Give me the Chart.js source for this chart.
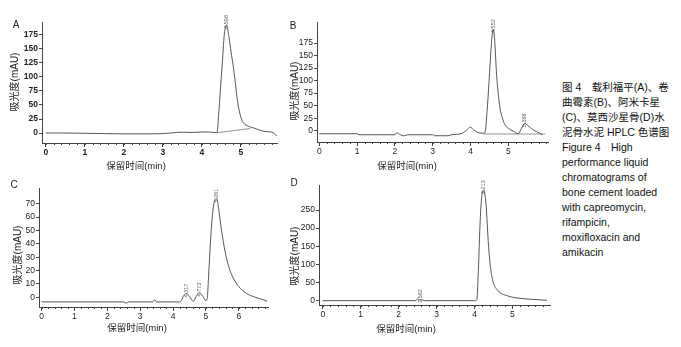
<!DOCTYPE html>
<html>
<head>
<meta charset="utf-8">
<script src="https://cdn.jsdelivr.net/npm/chart.js@4.4.1/dist/chart.umd.min.js"></script>
<style>
  body { margin: 0; background: #fff; }
  #page { position: relative; width: 681px; height: 347px; overflow: hidden; font-family: "Liberation Sans", "Noto Sans CJK SC", sans-serif; color: #222; }
  canvas { position: absolute; }
  .letter { position: absolute; font-size: 10px; transform: translate(-50%, -50%); }
  .ytitle { position: absolute; font-size: 10px; white-space: nowrap; transform: translate(-50%, -50%) rotate(-90deg); }
  .xtitle { position: absolute; font-size: 9.5px; white-space: nowrap; transform: translate(-50%, -50%); }
  #caption { position: absolute; left: 562px; top: 80px; font-size: 10.5px; line-height: 15px; white-space: nowrap; color: #111; }
</style>
</head>
<body>
<div id="page">
  <canvas id="chartA" width="290" height="170" style="left:0px;top:0px"></canvas>
  <canvas id="chartB" width="280" height="170" style="left:280px;top:0px"></canvas>
  <canvas id="chartC" width="285" height="175" style="left:0px;top:172px"></canvas>
  <canvas id="chartD" width="281" height="175" style="left:280px;top:172px"></canvas>

  <div class="letter" style="left:16px;top:24px">A</div>
  <div class="letter" style="left:293px;top:25px">B</div>
  <div class="letter" style="left:14px;top:184px">C</div>
  <div class="letter" style="left:294px;top:182px">D</div>

  <div class="ytitle" style="left:13px;top:82px">吸光度(mAU)</div>
  <div class="ytitle" style="left:293px;top:91px">吸光度(mAU)</div>
  <div class="ytitle" style="left:16px;top:255px">吸光度(mAU)</div>
  <div class="ytitle" style="left:293px;top:256px">吸光度(mAU)</div>

  <div class="xtitle" style="left:136px;top:165px">保留时间(min)</div>
  <div class="xtitle" style="left:407px;top:165px">保留时间(min)</div>
  <div class="xtitle" style="left:137px;top:327px">保留时间(min)</div>
  <div class="xtitle" style="left:406px;top:328px">保留时间(min)</div>

  <div id="caption">
    图 4　载利福平(A)、卷<br>
    曲霉素(B)、阿米卡星<br>
    (C)、莫西沙星骨(D)水<br>
    泥骨水泥 HPLC 色谱图<br>
    Figure 4　High<br>
    performance liquid<br>
    chromatograms of<br>
    bone cement loaded<br>
    with capreomycin,<br>
    rifampicin,<br>
    moxifloxacin and<br>
    amikacin
  </div>
</div>

<script>
// retention time (min) and absorbance (mAU)
var timeA = [0, 0.5, 1, 1.5, 2, 2.5, 2.7, 3, 3.2, 3.5, 3.7, 3.9, 4.1, 4.3, 4.39, 4.43, 4.48, 4.52, 4.58, 4.63, 4.7, 4.75, 4.81, 4.86, 4.91, 4.96, 5.02, 5.07, 5.2, 5.33, 5.45, 5.6, 5.75, 5.85, 5.93];
var absA  = [0, 0, -0.5, -1, -1.5, -1.5, -1.5, -1, 0, 1.5, 1, 1.5, 2, 1, 0.5, 30, 80, 118, 177, 193, 170, 145, 118, 90, 60, 40, 25, 18, 12, 9, 6, 3, 2, 0, -6];
var baseTimeA = [4.39, 5.24];
var baseAbsA  = [0.5, 8];

var timeB = [0, 0.5, 1.0, 1.05, 1.5, 2.0, 2.05, 2.12, 2.25, 2.35, 2.6, 3.0, 3.05, 3.4, 3.5, 3.75, 3.88, 4.0, 4.08, 4.18, 4.3, 4.38, 4.44, 4.49, 4.55, 4.6, 4.64, 4.69, 4.74, 4.78, 4.85, 4.91, 5.0, 5.13, 5.26, 5.35, 5.44, 5.52, 5.65, 5.83, 5.9];
var absB  = [-6, -6, -6, -8, -8, -8, -4, -7, -10, -8, -8, -8, -10, -10, -8, -6, 0, 7, 2, -3, -5, -4, 40, 98, 170, 203, 180, 112, 70, 45, 24, 12, 5, -1, -6, 5, 15, 10, 2, -5, -8];
var baseTimeB = [4.33, 5.98];
var baseAbsB  = [-6.5, -6.5];

var timeC = [0, 1, 2, 2.5, 2.58, 2.65, 3.38, 3.44, 3.5, 4.2, 4.25, 4.33, 4.41, 4.5, 4.62, 4.7, 4.8, 4.9, 5.0, 5.04, 5.08, 5.14, 5.2, 5.26, 5.32, 5.38, 5.42, 5.5, 5.62, 5.72, 5.82, 6.0, 6.23, 6.5, 6.7, 6.86];
var absC  = [-3.5, -3.5, -3.5, -3.5, -4.5, -3.5, -3.5, -1.8, -3.5, -3.5, -2.5, 1.5, 2.8, 0.5, -3, 0.5, 3.5, 1, -2.5, -1, 15, 42, 62, 72, 74, 68, 60, 46, 30, 21, 15, 8, 3, 0, -1.5, -3];

var timeD = [0, 1, 2, 2.45, 2.5, 2.55, 2.6, 2.68, 3.5, 4.0, 4.06, 4.1, 4.15, 4.19, 4.24, 4.3, 4.37, 4.43, 4.5, 4.6, 4.7, 4.85, 5.03, 5.25, 5.47, 5.7, 5.91];
var absD  = [0, 0, 0, 0, 5, 2, 3, 0, 0, 0, 2, 80, 222, 287, 305, 270, 150, 85, 48, 30, 20, 14, 9, 6, 4, 2.5, 1];

// peak retention-time labels
var peakTextA = ["4.598"];          var peakTimeA = [4.63];            var peakAbsA = [193];
var peakTextB = ["4.552", "5.388"]; var peakTimeB = [4.6, 5.44];       var peakAbsB = [203, 15];
var peakTextC = ["4.317", "4.773", "5.261"]; var peakTimeC = [4.41, 4.8, 5.32]; var peakAbsC = [2.8, 3.5, 74];
var peakTextD = ["2.582", "4.213"]; var peakTimeD = [2.58, 4.24];      var peakAbsD = [5, 305];

// tick labels
var xTicks5 = [0, 1, 2, 3, 4, 5];
var xTicks6 = [0, 1, 2, 3, 4, 5, 6];
var yTicksAB = [0, 25, 50, 75, 100, 125, 150, 175];
var yTicksC = [0, 10, 20, 30, 40, 50, 60, 70];
var yTicksD = [0, 50, 100, 150, 200, 250];

function pts(t, v) {
  return t.map(function (x, i) { return { x: x, y: v[i] }; });
}

var axisColor = "#444";

function makePanel(id, box, xRange, yRange, xTicks, yTicks, trace, base, peaks, bold) {
  var cv = document.getElementById(id);
  var cx = parseFloat(cv.style.left), cy = parseFloat(cv.style.top);
  var xh = 16;
  var tickFont = { family: "Liberation Sans", size: 8.5, weight: bold ? "bold" : "normal" };

  var datasets = [{
    data: trace,
    borderColor: "#555",
    borderWidth: 1,
    pointRadius: 0,
    cubicInterpolationMode: "monotone",
    fill: false
  }];
  if (base) {
    datasets.push({
      data: base,
      borderColor: "#777",
      borderWidth: 0.8,
      pointRadius: 0,
      fill: false
    });
  }

  var extras = {
    id: "extras",
    afterDatasetsDraw: function (chart) {
      var ctx = chart.ctx, xs = chart.scales.x, ys = chart.scales.y;
      ctx.save();
      // minor ticks on the time axis
      ctx.strokeStyle = axisColor;
      ctx.lineWidth = 1;
      ctx.beginPath();
      for (var k = Math.ceil(xRange[0] / 0.2); k * 0.2 <= xRange[1]; k++) {
        var px = Math.round(xs.getPixelForValue(k * 0.2)) + 0.5;
        ctx.moveTo(px, ys.bottom);
        ctx.lineTo(px, ys.bottom + 2);
      }
      ctx.stroke();
      // peak labels
      ctx.fillStyle = "#666";
      ctx.font = "5.5px 'Liberation Sans'";
      ctx.textAlign = "left";
      ctx.textBaseline = "middle";
      for (var i = 0; i < peaks.text.length; i++) {
        var x = xs.getPixelForValue(peaks.time[i]);
        var y = ys.getPixelForValue(peaks.abs[i]) + 4;
        ctx.save();
        ctx.translate(x, y);
        ctx.rotate(-Math.PI / 2);
        ctx.fillText(peaks.text[i], 0, 0);
        ctx.restore();
      }
      ctx.restore();
    }
  };

  return new Chart(cv, {
    type: "line",
    data: { datasets: datasets },
    options: {
      responsive: false,
      animation: false,
      layout: {
        padding: {
          left: 0,
          top: box.T - cy,
          right: cx + cv.width - box.R,
          bottom: cy + cv.height - box.B - xh
        }
      },
      plugins: { legend: { display: false }, tooltip: { enabled: false } },
      scales: {
        x: {
          type: "linear",
          min: xRange[0],
          max: xRange[1],
          afterFit: function (s) { s.height = xh; },
          afterBuildTicks: function (s) { s.ticks = xTicks.map(function (v) { return { value: v }; }); },
          grid: { display: true, drawOnChartArea: false, drawTicks: true, tickLength: 4, color: axisColor },
          border: { display: true, color: axisColor, width: 1 },
          ticks: { color: "#222", font: tickFont, padding: 1, maxRotation: 0 }
        },
        y: {
          type: "linear",
          min: yRange[0],
          max: yRange[1],
          afterFit: function (s) { s.width = box.L - cx; },
          afterBuildTicks: function (s) { s.ticks = yTicks.map(function (v) { return { value: v }; }); },
          grid: { display: true, drawOnChartArea: false, drawTicks: true, tickLength: 3, color: axisColor },
          border: { display: true, color: axisColor, width: 1 },
          ticks: { color: "#222", font: tickFont, padding: 1 }
        }
      }
    },
    plugins: [extras]
  });
}

makePanel("chartA", { L: 42, T: 22, R: 277, B: 143 }, [-0.1, 5.93], [-17.8, 198], xTicks5, yTicksAB,
  pts(timeA, absA), pts(baseTimeA, baseAbsA), { text: peakTextA, time: peakTimeA, abs: peakAbsA }, true);

makePanel("chartB", { L: 317, T: 22, R: 548, B: 142 }, [-0.06, 6.05], [-22.5, 217], xTicks5, yTicksAB,
  pts(timeB, absB), pts(baseTimeB, baseAbsB), { text: peakTextB, time: peakTimeB, abs: peakAbsB }, false);

makePanel("chartC", { L: 39, T: 188, R: 268, B: 307 }, [-0.08, 6.89], [-7.3, 81.8], xTicks6, yTicksC,
  pts(timeC, absC), null, { text: peakTextC, time: peakTimeC, abs: peakAbsC }, false);

makePanel("chartD", { L: 319, T: 185, R: 550, B: 305 }, [-0.1, 5.99], [-11.9, 319], xTicks5, yTicksD,
  pts(timeD, absD), null, { text: peakTextD, time: peakTimeD, abs: peakAbsD }, false);
</script>
</body>
</html>
